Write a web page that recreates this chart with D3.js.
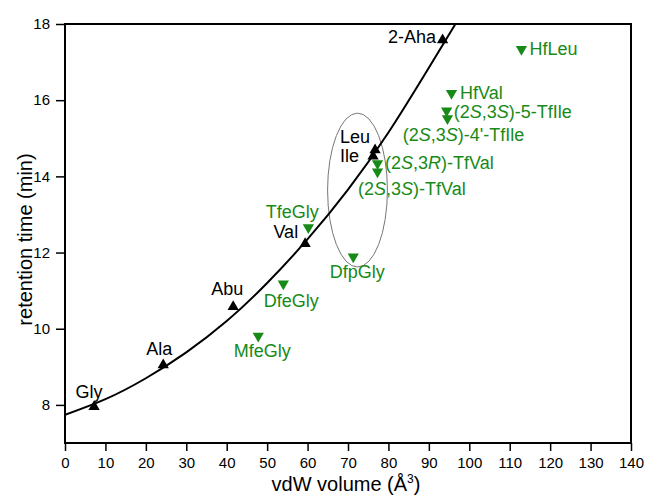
<!DOCTYPE html>
<html>
<head>
<meta charset="utf-8">
<script src="https://cdn.jsdelivr.net/npm/d3@7"></script>
<style>
  body { margin: 0; background: #fff; }
  svg { font-family: "Liberation Sans", Arial, sans-serif; }
</style>
</head>
<body>
<svg id="chart" width="648" height="497"></svg>
<script>
// Acides aminés naturels (triangles noirs)
const natNames = ["Gly", "Ala", "Abu", "Val", "Leu", "Ile", "2-Aha"];
const natVolume = [7.2, 24.3, 41.6, 59.4, 76.7, 76.2, 93.4];
const natTime = [7.95, 9.05, 10.58, 12.23, 14.69, 14.53, 17.58];

// Acides aminés fluorés (triangles verts)
const fluoNames = ["HfLeu", "HfVal", "(2<i>S</i>,3<i>S</i>)-5-TfIle", "(2<i>S</i>,3<i>S</i>)-4'-TfIle",
  "(2<i>S</i>,3<i>R</i>)-TfVal", "(2<i>S</i>,3<i>S</i>)-TfVal", "TfeGly", "DfpGly", "DfeGly", "MfeGly"];
const fluoVolume = [112.9, 95.6, 94.4, 94.6, 77.3, 77.3, 60.2, 71.3, 54.0, 47.8];
const fluoTime = [17.34, 16.18, 15.72, 15.52, 14.34, 14.12, 12.66, 11.89, 11.18, 9.81];

// Courbe d'ajustement
const fitVolume = [0, 10, 20, 30, 40, 50, 60, 70, 80, 90, 100];
const fitTime = [7.74, 8.15, 8.70, 9.38, 10.2, 11.2, 12.35, 13.65, 15.15, 16.85, 18.6];

// Graduations
const xTicks = [0, 10, 20, 30, 40, 50, 60, 70, 80, 90, 100, 110, 120, 130, 140];
const yTicks = [8, 10, 12, 14, 16, 18];

// Décalage des étiquettes (px) : [dx, dy, ancrage]
const natLabelPos = [[-5, -9, "middle"], [-4, -10, "middle"], [-6, -12, "middle"], [-7, -6, "end"],
  [-5, -7, "end"], [-14, 5.5, "end"], [-6.5, 3, "end"]];
const fluoLabelPos = [[8, 6, "start"], [8.5, 6, "start"], [7, 7, "start"], [16, 23, "middle"],
  [7.5, 6, "start"], [-19.5, 23, "start"], [-16, -9, "middle"], [4, 21, "middle"],
  [8, 23, "middle"], [4, 21, "middle"]];

const green = "#178a17";
const margin = { left: 65, top: 24, right: 17, bottom: 54 };
const svg = d3.select("#chart");
const width = 648 - margin.left - margin.right;
const height = 497 - margin.top - margin.bottom;

const x = d3.scaleLinear().domain([0, 140]).range([0, width]);
const y = d3.scaleLinear().domain([7, 18]).range([height, 0]);

const g = svg.append("g").attr("transform", `translate(${margin.left},${margin.top})`);

g.append("clipPath").attr("id", "clip")
  .append("rect").attr("width", width).attr("height", height);

// Ellipse autour de Leu / Ile
g.append("ellipse")
  .attr("cx", x(72.35)).attr("cy", y(13.64))
  .attr("rx", x(7.4) - x(0)).attr("ry", y(0) - y(2.02))
  .attr("fill", "none").attr("stroke", "#777").attr("stroke-width", 1);

// Courbe
const fitData = fitVolume.map((v, i) => [v, fitTime[i]]);
g.append("path")
  .datum(fitData)
  .attr("clip-path", "url(#clip)")
  .attr("fill", "none").attr("stroke", "#000").attr("stroke-width", 2)
  .attr("d", d3.line().x(d => x(d[0])).y(d => y(d[1])).curve(d3.curveNatural));

// Axes
const xAxis = g.append("g").attr("transform", `translate(0,${height})`)
  .call(d3.axisBottom(x).tickValues(xTicks).tickSize(8).tickPadding(6));
const yAxis = g.append("g")
  .call(d3.axisLeft(y).tickValues(yTicks).tickSize(9).tickPadding(6));
[xAxis, yAxis].forEach(a => {
  a.select(".domain").remove();
  a.selectAll("line").attr("stroke", "#000").attr("stroke-width", 1.5);
  a.selectAll("text").attr("font-size", 15).attr("fill", "#000").attr("font-family", "Liberation Sans, Arial, sans-serif");
});
g.append("rect").attr("width", width).attr("height", height)
  .attr("fill", "none").attr("stroke", "#000").attr("stroke-width", 2);

// Titres des axes
const xt = svg.append("text")
  .attr("x", margin.left + width / 2 - 2).attr("y", 491)
  .attr("text-anchor", "middle").attr("font-size", 20);
xt.append("tspan").text("vdW volume (Å");
xt.append("tspan").attr("dy", -8).attr("font-size", 12).text("3");
xt.append("tspan").attr("dy", 8).text(")");

svg.append("text")
  .attr("transform", `translate(32,${margin.top + height / 2 + 6}) rotate(-90)`)
  .attr("text-anchor", "middle").attr("font-size", 20)
  .text("retention time (min)");

// Marqueurs
const triUp = d3.symbol().type(d3.symbolTriangle).size(55);
g.selectAll(".nat").data(natNames).enter().append("path")
  .attr("class", "nat")
  .attr("transform", (d, i) => `translate(${x(natVolume[i])},${y(natTime[i])})`)
  .attr("d", triUp).attr("fill", "#000");

g.selectAll(".fluo").data(fluoNames).enter().append("path")
  .attr("class", "fluo")
  .attr("transform", (d, i) => `translate(${x(fluoVolume[i])},${y(fluoTime[i])}) rotate(180)`)
  .attr("d", triUp).attr("fill", green);

// Étiquettes
function addLabel(sel, label) {
  label.split(/(<i>.*?<\/i>)/).filter(s => s).forEach(part => {
    const it = part.startsWith("<i>");
    sel.append("tspan").attr("font-style", it ? "italic" : null)
      .text(part.replace(/<\/?i>/g, ""));
  });
}

natNames.forEach((name, i) => {
  const p = natLabelPos[i];
  const t = g.append("text")
    .attr("x", x(natVolume[i]) + p[0]).attr("y", y(natTime[i]) + p[1])
    .attr("text-anchor", p[2]).attr("font-size", 18).attr("fill", "#000");
  addLabel(t, name);
});

fluoNames.forEach((name, i) => {
  const p = fluoLabelPos[i];
  const t = g.append("text")
    .attr("x", x(fluoVolume[i]) + p[0]).attr("y", y(fluoTime[i]) + p[1])
    .attr("text-anchor", p[2]).attr("font-size", 18).attr("fill", green);
  addLabel(t, name);
});
</script>
</body>
</html>
